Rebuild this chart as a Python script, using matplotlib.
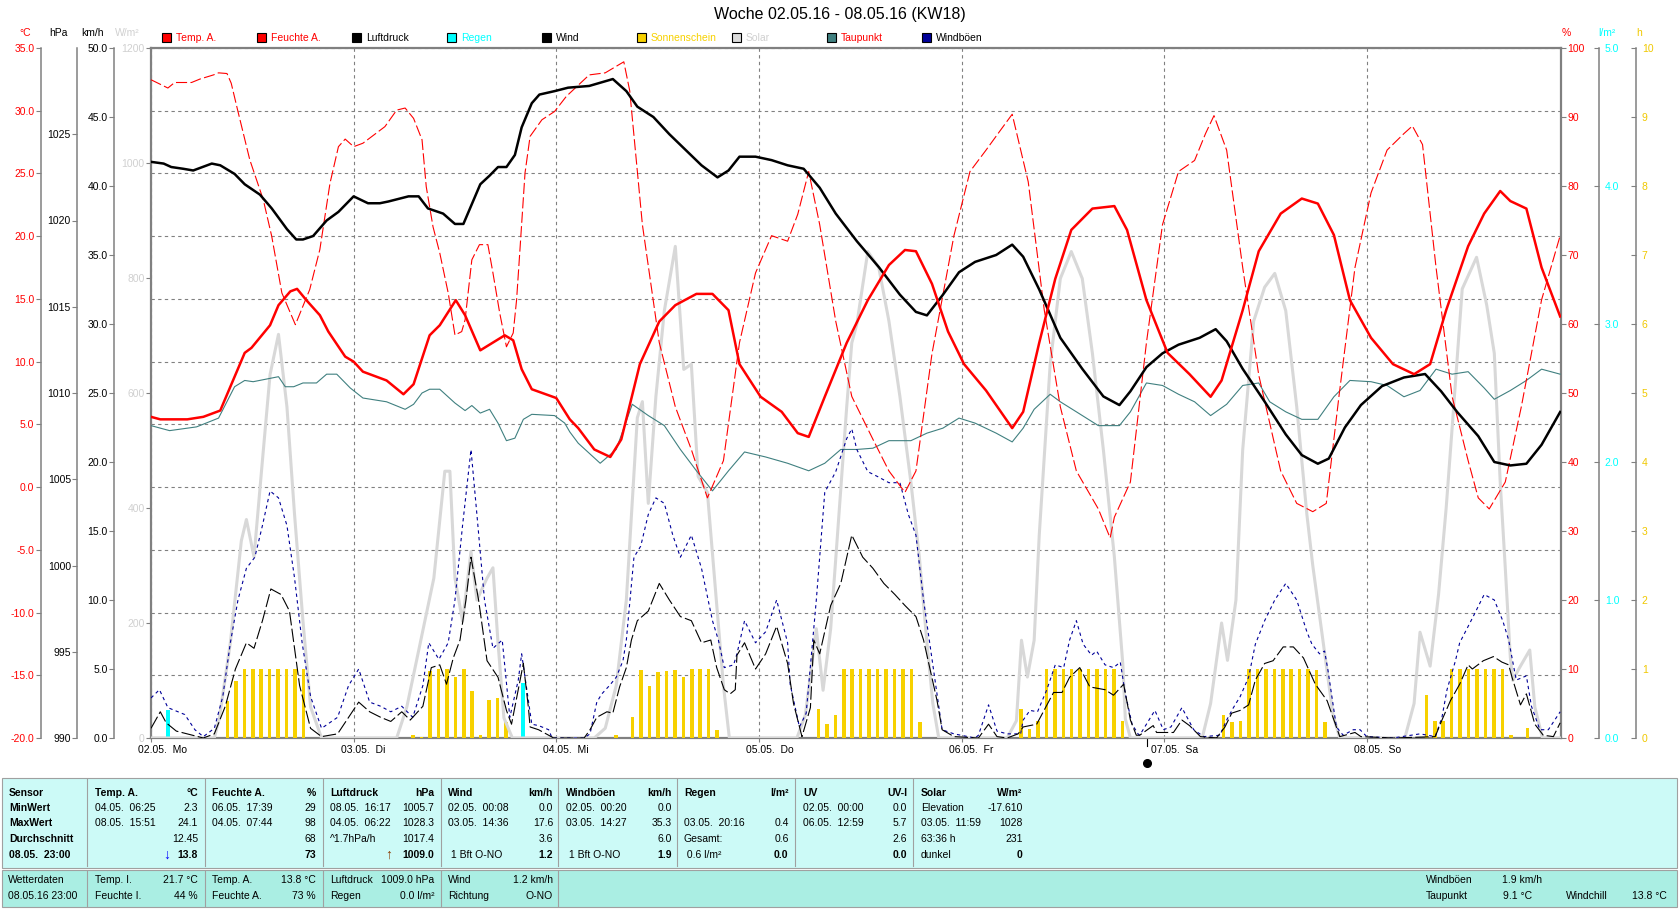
import numpy as np
import matplotlib.pyplot as plt
from matplotlib.patches import Rectangle
from matplotlib.lines import Line2D
from matplotlib.transforms import ScaledTranslation, blended_transform_factory

plt.rcParams['font.family'] = ['Liberation Sans', 'DejaVu Sans']
plt.rcParams['font.size'] = 7.5

# ---- data, time in hours from 02.05. 00:00 ----
temp_h = [0, 1.1, 4.3, 6.2, 8.2, 11.1, 11.9, 14.1, 15.1, 16.5, 17.3, 18.4, 20.0, 21.0, 23.0, 24.0, 25.1, 27.9,
          29.9, 31.1, 33.0, 34.2, 36.1, 37.2, 39.0, 41.9, 42.9, 43.9, 45.1, 48.0, 49.6, 50.6, 52.5, 54.4, 55.7,
          57.9, 60.2, 62.1, 64.6, 66.5, 68.4, 69.7, 72.2, 74.7, 76.6, 77.9, 79.8, 82.4, 84.9, 87.4, 89.3, 90.6,
          92.5, 94.4, 96.3, 98.9, 102.0, 103.3, 105.2, 107.1, 109.0, 111.5, 114.1, 115.6, 117.9, 120.4, 123.0,
          125.5, 126.8, 129.3, 131.2, 133.8, 136.3, 138.2, 140.1, 142.0, 144.5, 147.1, 149.6, 151.5, 153.4,
          156.0, 157.9, 159.8, 161.0, 162.9, 164.7, 166.9]
temp_v = [5.6, 5.4, 5.4, 5.6, 6.1, 10.7, 11.1, 12.9, 14.5, 15.6, 15.8, 14.9, 13.7, 12.4, 10.4, 10.0, 9.2, 8.5,
          7.4, 8.2, 12.1, 12.9, 14.9, 13.7, 10.9, 12.1, 11.7, 9.4, 7.8, 7.1, 5.4, 4.7, 3.0, 2.4, 3.8,
          9.8, 13.2, 14.5, 15.4, 15.4, 14.1, 9.8, 7.2, 6.0, 4.3, 4.0, 7.2, 11.5, 14.9, 17.7, 18.9, 18.8,
          16.2, 12.4, 9.8, 7.7, 4.7, 6.0, 11.5, 16.6, 20.5, 22.2, 22.4, 20.5, 14.9, 10.7, 9.0,
          7.2, 8.5, 14.1, 18.8, 21.8, 23.0, 22.6, 20.1, 14.9, 11.9, 9.8, 9.0, 9.8, 14.1,
          19.2, 21.8, 23.6, 22.8, 22.2, 17.5, 13.6]

hum_h = [0, 2.0, 2.8, 4.8, 5.8, 7.4, 8.0, 9.0, 9.5, 10.3, 11.7, 13.3, 14.3, 15.5, 17.1, 18.8, 20.0, 21.2, 22.2,
         23.0, 24.0, 25.1, 27.7, 29.1, 30.1, 31.1, 32.1, 32.6, 33.4, 34.2, 35.2, 36.0, 36.8, 37.2, 38.0, 38.9,
         39.9, 40.5, 41.3, 42.1, 42.9, 43.3, 43.7, 44.3, 44.9, 46.3, 47.8, 49.2, 51.9, 53.8, 56.0, 56.7, 58.2,
         60.2, 62.1, 64.0, 65.9, 67.8, 69.7, 71.6, 73.5, 75.4, 76.6, 77.9, 79.2, 81.1, 83.0, 85.5, 87.4, 89.3,
         90.6, 92.5, 95.1, 97.0, 98.9, 100.8, 102.0, 103.9, 105.8, 107.7, 109.6, 112.2, 113.6, 114.1, 116.0,
         117.9, 119.8, 121.7, 123.6, 124.9, 125.9, 127.4, 129.3, 131.2, 133.8, 135.7, 137.6, 139.2, 140.7,
         142.6, 144.5, 146.4, 148.4, 149.4, 150.6, 152.2, 154.1, 156.0, 157.2, 158.5, 160.4, 162.3, 164.7, 166.9]
hum_v = [95.4, 94.2, 95.0, 95.0, 95.5, 96.1, 96.4, 96.3, 94.9, 90.8, 83.8, 78.0, 72.7, 64.5, 59.9, 65.0, 70.8, 80.4, 85.7,
         86.8, 85.7, 86.2, 88.6, 91.0, 91.3, 89.8, 86.7, 79.9, 74.1, 70.3, 64.5, 58.4, 58.9, 60.6, 69.3, 71.5,
         71.5, 67.4, 61.6, 56.7, 58.7, 63.5, 70.8, 81.9, 87.2, 89.6, 90.8, 93.0, 96.1, 96.4, 98.0, 93.8, 74.4,
         57.3, 48.0, 41.8, 34.8, 40.2, 57.3, 67.4, 72.8, 72.0, 75.9, 82.1, 74.4, 60.4, 49.5, 43.3, 38.7, 35.6,
         38.7, 55.7, 72.8, 82.1, 85.2, 88.4, 90.4, 80.6, 62.0, 48.0, 38.7, 33.2, 29.0, 32.0, 37.1,
         57.3, 74.4, 82.1, 83.7, 87.6, 90.2, 85.2, 68.2, 52.6, 38.7, 34.0, 32.8, 34.0, 49.5,
         68.2, 79.0, 85.2, 87.6, 88.7, 86.0, 68.2, 49.5, 40.2, 34.8, 33.2, 37.1, 48.0, 63.5, 72.8]

pres_h = [0, 1.5, 2.4, 3.8, 5.0, 7.2, 8.2, 9.9, 11.1, 12.9, 14.3, 16.1, 17.2, 18.0, 19.2, 20.8, 22.2, 24.0, 25.7,
          27.1, 28.1, 30.5, 31.7, 32.8, 34.6, 36.0, 37.0, 39.0, 40.1, 41.1, 42.1, 43.1, 43.9, 45.1, 46.0, 47.8,
          49.4, 51.9, 54.7, 56.3, 57.6, 59.5, 61.4, 63.3, 65.2, 67.1, 68.4, 69.7, 71.6, 73.5, 75.4, 77.3, 79.2,
          81.1, 83.6, 86.2, 88.7, 90.6, 91.9, 93.8, 95.7, 97.6, 100.1, 102.0, 103.3, 105.2, 107.7, 110.3, 112.8,
          114.7, 116.0, 117.9, 119.8, 121.7, 124.2, 126.1, 127.4, 129.3, 131.9, 134.4, 136.3, 138.2, 139.5,
          141.4, 143.3, 145.8, 148.4, 150.9, 152.8, 154.7, 157.2, 159.1, 161.0, 162.9, 164.7, 166.9]
pres_v = [1023.4, 1023.3, 1023.1, 1023.0, 1022.9, 1023.3, 1023.2, 1022.7, 1022.1, 1021.5, 1020.7, 1019.5, 1018.9,
          1018.9, 1019.1, 1020.0, 1020.5, 1021.4, 1021.0, 1021.0, 1021.1, 1021.4, 1021.4, 1020.7, 1020.4, 1019.8,
          1019.8, 1022.1, 1022.6, 1023.1, 1023.1, 1023.8, 1025.4, 1026.8, 1027.3, 1027.5, 1027.7, 1027.8, 1028.2,
          1027.5, 1026.6, 1026.0, 1025.0, 1024.1, 1023.2, 1022.5, 1022.9, 1023.7, 1023.7, 1023.5, 1023.2, 1023.0,
          1021.9, 1020.4, 1018.8, 1017.3, 1015.7, 1014.7, 1014.5, 1015.7, 1017.0, 1017.6, 1018.0, 1018.6, 1017.9,
          1016.0, 1013.2, 1011.4, 1009.8, 1009.3, 1010.1, 1011.5, 1012.3, 1012.8, 1013.2, 1013.7, 1013.0, 1011.4,
          1009.5, 1007.6, 1006.4, 1005.9, 1006.2, 1008.0, 1009.3, 1010.4, 1010.9, 1011.1, 1010.1, 1008.9, 1007.5,
          1006.0, 1005.8, 1005.9, 1007.0, 1008.9]

dew_h = [0, 2.2, 5.4, 8.0, 9.9, 11.1, 12.1, 15.1, 15.9, 16.9, 18.0, 19.6, 20.8, 22.0, 23.6, 25.1, 27.9, 30.1, 31.1,
         32.1, 33.0, 34.2, 36.0, 37.2, 38.0, 39.0, 40.1, 41.1, 42.1, 43.1, 44.1, 45.1, 47.8, 49.0, 49.6, 50.6,
         53.2, 55.1, 57.0, 58.9, 60.8, 62.7, 64.6, 66.5, 68.4, 70.3, 72.8, 75.4, 77.9, 79.8, 81.7, 83.6, 85.5,
         87.4, 90.0, 91.9, 93.8, 95.7, 97.6, 100.1, 102.0, 103.3, 104.6, 106.5, 107.7, 109.6, 112.2, 114.7, 116.0,
         117.9, 119.8, 121.7, 123.6, 125.5, 127.4, 129.3, 131.2, 132.5, 134.4, 136.3, 138.2, 140.1, 142.0, 144.5,
         146.4, 148.4, 150.3, 152.2, 154.1, 156.0, 157.9, 159.1, 161.0, 162.9, 164.7, 166.9]
dew_v = [4.9, 4.5, 4.8, 5.5, 8.0, 8.5, 8.4, 8.8, 8.0, 8.0, 8.3, 8.3, 9.0, 9.0, 7.9, 7.1, 6.8, 6.2, 6.6,
         7.5, 7.8, 7.8, 6.7, 6.1, 6.5, 5.9, 6.2, 5.1, 3.7, 3.9, 5.4, 5.8, 5.7, 5.1, 4.4, 3.5,
         1.9, 3.0, 6.6, 5.7, 4.9, 3.0, 1.3, -0.3, 1.3, 2.8, 2.4, 1.9, 1.3, 1.9, 3.0, 3.0, 3.1,
         3.7, 3.7, 4.3, 4.7, 5.5, 5.1, 4.3, 3.6, 4.7, 6.2, 7.4, 6.8, 6.0, 4.9, 4.9, 6.0,
         8.3, 8.1, 7.4, 6.8, 5.7, 6.6, 8.1, 8.3, 6.8, 6.0, 5.4, 5.4, 7.2, 8.5, 8.4,
         8.1, 7.2, 7.7, 9.4, 9.0, 9.2, 7.9, 7.0, 7.7, 8.5, 9.4, 9.0]

solar_h = [0, 7.5, 8.1, 9.4, 10.7, 11.3, 12.2, 13.2, 14.1, 15.1, 16.1, 17.0, 18.0, 18.9, 20.2,
           29.1, 30.3, 31.9, 33.5, 34.8, 35.4, 36.0, 36.9, 37.9, 38.6, 39.8, 40.5, 41.1, 41.8, 42.8,
           52.5, 53.8, 55.1, 56.3, 57.6, 58.2, 58.9, 59.8, 60.8, 62.1, 63.1, 64.0, 64.8, 65.9, 66.9, 67.8, 68.5,
           76.5, 77.5, 78.8, 79.6, 80.5, 81.3, 82.4, 83.0, 83.6, 84.9, 86.2, 87.4, 88.7, 90.0, 91.0, 91.9, 92.6, 93.3,
           101.4, 102.5, 103.1, 103.8, 104.6, 105.2, 106.5, 107.7, 109.0, 110.3, 111.5, 112.8, 114.1, 115.1, 115.4, 116.0,
           124.5, 125.5, 126.8, 127.5, 128.5, 129.3, 130.6, 131.9, 133.1, 134.4, 135.7, 136.9, 137.6, 138.8, 140.0, 140.8,
           148.5, 149.6, 150.3, 151.5, 152.5, 153.4, 154.1, 155.3, 157.0, 158.2, 159.1, 159.8, 160.4, 161.0, 161.3,
           162.0, 163.3, 163.9, 164.8, 166.9]
solar_v = [0, 0, 35, 166, 343, 380, 315, 483, 632, 702, 576, 389, 203, 54, 0,
           0, 54, 166, 278, 464, 464, 278, 203, 324, 240, 278, 296, 166, 35, 0,
           0, 17, 91, 240, 557, 585, 408, 594, 743, 855, 641, 650, 455, 427, 250, 91, 0,
           0, 40, 190, 83, 190, 352, 576, 687, 720, 846, 818, 725, 594, 445, 315, 166, 60, 0,
           0, 30, 170, 106, 170, 352, 650, 799, 846, 799, 669, 501, 315, 129, 33, 0,
           0, 60, 200, 135, 240, 501, 725, 784, 808, 743, 576, 389, 300, 170, 40, 0,
           0, 60, 184, 125, 250, 400, 538, 781, 836, 753, 669, 445, 296, 140, 100,
           120, 153, 54, 0, 0]

wind_h = [0, 1.1, 1.8, 3.0, 4.9, 6.2, 7.5, 8.8, 10.0, 11.3, 12.2, 13.2, 14.2, 15.4, 16.4, 17.6, 18.9, 20.2, 22.1,
          23.4, 24.6, 25.9, 27.2, 28.4, 29.7, 30.7, 32.2, 33.2, 34.2, 35.0, 35.8, 36.6, 37.3, 37.9, 38.8, 39.8,
          41.1, 42.1, 42.7, 44.1, 44.7, 44.9, 45.9, 47.1, 47.7, 51.3, 52.0, 52.8, 54.0, 54.7, 55.5, 56.3, 56.9,
          57.6, 58.9, 60.2, 61.4, 62.7, 64.0, 65.2, 66.3, 67.0, 67.9, 68.6, 69.2, 69.4, 70.3, 71.6, 72.8, 74.1,
          75.4, 76.1, 77.1, 78.1, 78.5, 79.2, 80.5, 81.7, 83.0, 84.3, 85.5, 86.8, 88.1, 89.3, 90.6, 91.5, 93.1,
          93.7, 95.1, 98.0, 99.2, 100.2, 101.4, 102.7, 103.3, 104.9, 106.9, 107.9, 108.8, 110.0, 111.2, 113.0,
          114.0, 115.2, 116.0, 116.7, 117.1, 118.7, 119.1, 119.9, 121.1, 122.1, 123.0, 124.3, 126.2, 127.2, 128.0,
          129.0, 130.0, 130.8, 131.9, 132.9, 134.1, 135.3, 136.5, 137.9, 139.3, 140.8, 141.4, 142.6, 143.3, 147.1,
          152.1, 152.9, 153.9, 155.0, 156.0, 156.5, 157.8, 159.0, 160.0, 160.8, 161.2, 162.2, 162.9, 163.9, 164.9,
          166.1, 166.9]
wind_v = [0.7, 1.9, 1.1, 0.5, 0.2, 0, 0.3, 2.3, 5.0, 6.9, 6.5, 8.5, 10.8, 10.4, 9.2, 3.8, 0.7, 0.1, 0.3,
          1.5, 2.6, 1.9, 1.5, 1.2, 1.9, 1.3, 2.3, 5.1, 5.3, 3.9, 5.8, 7.1, 10.0, 13.1, 10.0, 5.6,
          4.4, 2.0, 1.0, 5.4, 2.2, 0.8, 0.6, 0.2, 0, 0, 0.6, 1.5, 1.9, 1.8, 3.7, 5.1, 7.1,
          8.5, 9.2, 11.2, 10.0, 8.8, 8.5, 6.9, 7.1, 5.1, 3.5, 3.2, 3.5, 6.0, 6.9, 5.0, 6.1, 8.1,
          5.4, 2.5, 0.1, 2.2, 7.1, 6.1, 9.6, 11.2, 14.7, 13.1, 12.3, 11.2, 10.4, 9.6, 8.8, 7.1, 2.7,
          0.6, 0.1, 0, 1.0, 0.1, 0, 0.3, 0.8, 1.0, 3.3, 3.3, 4.4, 5.1, 3.7, 3.5,
          3.1, 3.9, 1.3, 0.2, 0.2, 0.9, 0.4, 0.4, 0.4, 1.3, 0.9, 0.1, 0, 0.8, 1.8,
          2.0, 2.4, 4.2, 5.4, 5.6, 6.6, 6.6, 5.8, 3.9, 2.7, 0.1, 0.2, 0.4, 0.1, 0,
          0.1, 1.3, 2.7, 3.9, 5.3, 5.0, 5.6, 5.9, 5.5, 5.3, 4.4, 2.4, 3.2, 1.0, 0.2,
          0.1, 1.1]

gust_h = [0, 1.0, 2.0, 4.0, 5.2, 6.2, 7.5, 8.5, 9.4, 10.3, 11.3, 12.3, 13.2, 14.1, 15.1, 16.1, 17.0, 17.9, 18.9,
          20.2, 22.1, 23.4, 24.6, 25.9, 27.2, 28.4, 29.7, 31.0, 32.2, 32.9, 34.1, 35.2, 36.0, 36.9, 37.9, 38.6,
          39.5, 40.5, 41.6, 42.5, 43.5, 43.9, 45.1, 45.9, 47.1, 47.5, 51.3, 52.0, 52.8, 53.4, 54.3, 55.1, 55.9,
          56.3, 57.2, 58.0, 58.9, 59.8, 60.8, 61.8, 62.7, 64.0, 65.2, 66.5, 67.2, 67.9, 69.0, 69.4, 70.3, 71.6,
          72.8, 74.1, 75.4, 75.7, 76.8, 77.6, 78.8, 79.8, 81.1, 82.4, 83.0, 83.6, 84.9, 86.2, 87.4, 88.7, 89.7,
          90.6, 91.5, 93.0, 93.7, 95.1, 97.6, 98.0, 99.2, 100.2, 101.4, 103.0, 103.3, 104.1, 105.0, 106.1, 107.1,
          108.1, 108.8, 109.6, 110.4, 111.4, 112.0, 113.0, 114.0, 114.8, 115.4, 116.2, 116.9, 117.1, 118.9, 119.9,
          120.8, 122.1, 123.5, 124.7, 126.6, 127.4, 128.2, 129.0, 130.0, 130.8, 131.9, 133.1, 134.4, 135.7, 136.9,
          137.5, 138.4, 139.0, 139.4, 140.4, 141.2, 142.4, 143.2, 144.0, 147.1, 150.3, 152.1, 152.9, 153.5, 154.5,
          155.0, 156.6, 157.9, 159.1, 160.1, 160.8, 161.7, 162.9, 163.5, 164.5, 165.5, 166.9]
gust_v = [2.9, 3.5, 2.2, 1.7, 0.6, 0.1, 0.7, 3.0, 6.9, 10.0, 12.3, 13.1, 15.4, 17.9, 17.4, 15.4, 11.6, 6.9, 3.0,
          0.7, 1.5, 3.8, 5.0, 2.6, 2.3, 1.9, 2.3, 1.5, 3.8, 6.9, 5.7, 6.9, 10.0, 15.4, 20.9, 16.2,
          10.0, 6.5, 7.1, 1.5, 4.2, 6.1, 1.0, 0.9, 0.6, 0, 0, 0.3, 2.6, 3.2, 3.8, 4.4, 5.6,
          7.1, 13.1, 13.9, 16.2, 17.4, 17.0, 14.7, 13.1, 14.7, 12.3, 8.5, 7.1, 5.1, 5.3, 6.1, 8.5, 6.9,
          7.7, 10.0, 6.9, 3.9, 0.8, 1.8, 10.0, 17.8, 19.3, 21.7, 22.4, 20.9, 19.3, 18.9, 18.5, 18.5, 16.2,
          14.7, 10.0, 3.6, 0.6, 0.3, 0, 0.2, 2.4, 0.5, 0.3, 0.3, 1.3, 2.0, 1.9, 3.5, 5.3,
          5.1, 7.1, 8.5, 6.8, 6.0, 6.3, 5.3, 5.1, 5.5, 3.2, 1.0, 0.3, 0.2, 2.0, 0.6,
          0.8, 2.2, 0.6, 0.1, 0.2, 1.3, 2.2, 3.0, 4.4, 6.8, 8.5, 10.0, 11.2, 10.0, 7.7,
          6.8, 6.1, 6.3, 4.9, 0.8, 0.2, 0.6, 0.6, 0.1, 0, 0.3, 0.1, 1.5, 3.5, 5.6,
          6.9, 8.8, 10.4, 10.0, 8.5, 7.1, 4.2, 4.5, 2.3, 0.6, 0.6, 1.9]

sun_h = [9, 10, 11, 12, 13, 14, 15, 16, 17, 18,
         31, 32, 33, 34, 35, 36, 37, 38, 39, 40, 41, 42,
         55, 57, 58, 59, 60, 61, 62, 63, 64, 65, 66, 67,
         79, 80, 81, 82, 83, 84, 85, 86, 87, 88, 89, 90, 91,
         103, 104, 105, 106, 107, 108, 109, 110, 111, 112, 113, 114, 115,
         127, 128, 129, 130, 131, 132, 133, 134, 135, 136, 137, 138, 139,
         151, 152, 153, 154, 155, 156, 157, 158, 159, 160, 161, 163]
sun_v = [0.53, 0.83, 1, 1, 1, 1, 1, 1, 1, 1,
         0.05, 0.02, 0.97, 1, 1, 0.89, 1, 0.68, 0.05, 0.55, 0.58, 0.23,
         0.04, 0.31, 0.98, 0.75, 0.96, 0.97, 0.99, 0.88, 1, 1, 1, 0.11,
         0.42, 0.2, 0.33, 1, 1, 1, 1, 1, 1, 1, 1, 1, 0.23,
         0.42, 0.13, 0.25, 1, 1, 1, 1, 1, 1, 1, 1, 1, 0.24,
         0.34, 0.23, 0.24, 1, 1, 1, 1, 1, 1, 1, 1, 0.98, 0.23,
         0.63, 0.25, 0.24, 1, 1, 1, 1, 1, 1, 1, 0.04, 0.15]

rain_h = [2, 44]
rain_v = [0.2, 0.4]

moon_h = 118.0

day_ticks = [0, 24, 48, 72, 96, 120, 144]
day_labels = ['02.05.  Mo', '03.05.  Di', '04.05.  Mi', '05.05.  Do', '06.05.  Fr', '07.05.  Sa', '08.05.  So']

legend_names = ['Temp. A.', 'Feuchte A.', 'Luftdruck', 'Regen', 'Wind', 'Sonnenschein', 'Solar', 'Taupunkt', 'Windböen']
legend_box = ['#ff0000', '#ff0000', '#000000', '#00ffff', '#000000', '#f7d100', '#dcdcdc', '#408080', '#000099']
legend_txt = ['#ff0000', '#ff0000', '#000000', '#00ffff', '#000000', '#f7d100', '#d0d0d0', '#ff0000', '#000000']

row_heads = ['Sensor', 'MinWert', 'MaxWert', 'Durchschnitt', '08.05.  23:00']
tab_names = ['Temp. A.', 'Feuchte A.', 'Luftdruck', 'Wind', 'Windböen', 'Regen', 'UV', 'Solar']
tab_units = ['°C', '%', 'hPa', 'km/h', 'km/h', 'l/m²', 'UV-I', 'W/m²']
tab_left = [['04.05.  06:25', '08.05.  15:51', '', ''],
            ['06.05.  17:39', '04.05.  07:44', '', ''],
            ['08.05.  16:17', '04.05.  06:22', '^1.7hPa/h', ''],
            ['02.05.  00:08', '03.05.  14:36', '', ' 1 Bft O-NO'],
            ['02.05.  00:20', '03.05.  14:27', '', ' 1 Bft O-NO'],
            ['', '03.05.  20:16', 'Gesamt:', ' 0.6 l/m²'],
            ['02.05.  00:00', '06.05.  12:59', '', ''],
            ['Elevation', '03.05.  11:59', '63:36 h', 'dunkel']]
tab_right = [['2.3', '24.1', '12.45', '13.8'],
             ['29', '98', '68', '73'],
             ['1005.7', '1028.3', '1017.4', '1009.0'],
             ['0.0', '17.6', '3.6', '1.2'],
             ['0.0', '35.3', '6.0', '1.9'],
             ['', '0.4', '0.6', '0.0'],
             ['0.0', '5.7', '2.6', '0.0'],
             ['-17.610', '1028', '231', '0']]

now_head = ['Wetterdaten', '08.05.16 23:00']
now_left = [['Temp. I.', 'Feuchte I.'], ['Temp. A.', 'Feuchte A.'], ['Luftdruck', 'Regen'], ['Wind', 'Richtung']]
now_right = [['21.7 °C', '44 %'], ['13.8 °C', '73 %'], ['1009.0 hPa', '0.0 l/m²'], ['1.2 km/h', 'O-NO']]

# ---- figure ----
FW, FH = 1680, 909
fig = plt.figure(figsize=(FW / 100, FH / 100), dpi=100)


def fx(px):
    return px / FW


def fy(py):
    return 1 - py / FH


L, R, T, B = 151, 1561, 48, 738
pos = [fx(L), fy(B), (R - L) / FW, (B - T) / FH]
GRAY = '#808080'

ax = fig.add_axes(pos)
ax.set_xlim(0, 167)
ax.set_ylim(-20, 35)
ax.set_yticks(np.arange(-20, 36, 5))
ax.tick_params(axis='y', length=0, labelleft=False)
ax.set_xticks(day_ticks, day_labels)
ax.tick_params(axis='x', length=3, width=0.8, color=GRAY, pad=2, labelsize=7.5)
for lab in ax.get_xticklabels():
    lab.set_horizontalalignment('left')
    lab.set_transform(lab.get_transform() + ScaledTranslation(-13 / 100, 0, fig.dpi_scale_trans))
ax.grid(True, color=GRAY, linestyle=(0, (3, 3)), linewidth=0.8)
for s in ax.spines.values():
    s.set_color(GRAY)
    s.set_linewidth(1.6)


def data_axes(lo, hi):
    a = ax.twinx()
    a.set_ylim(lo, hi)
    a.set_axis_off()
    return a


ax_sun = data_axes(0, 10)
ax_sun.bar(np.array(sun_h) + 0.05, sun_v, width=0.42, color='#f7d100', linewidth=0)
ax_rain = data_axes(0, 5)
ax_rain.bar(np.array(rain_h) + 0.05, rain_v, width=0.45, color='#00ffff', linewidth=0)

ax_sol = ax.twinx()
ax_sol.set_ylim(0, 1200)
ax_sol.plot(solar_h, solar_v, color='#d8d8d8', linewidth=2.2)
ax_sol.yaxis.tick_left()
ax_sol.set_yticks(np.arange(0, 1201, 200))
ax_sol.tick_params(axis='y', direction='out', length=3.6, width=0.8, color=GRAY, labelcolor='#d0d0d0', pad=1)
for s in ax_sol.spines.values():
    s.set_visible(False)

ax_dew = data_axes(-20, 35)
ax_dew.plot(dew_h, dew_v, color='#408080', linewidth=0.8)

ax_wind = data_axes(0, 50)
ax_wind.plot(gust_h, gust_v, color='#000099', linewidth=0.8, linestyle=(0, (3, 3)))
ax_wind.plot(wind_h, wind_v, color='black', linewidth=0.8, linestyle=(0, (12, 3)))

ax_hum = ax.twinx()
ax_hum.set_ylim(0, 100)
ax_hum.plot(hum_h, hum_v, color='#ff0000', linewidth=0.8, linestyle=(0, (10, 3)))
ax_hum.set_yticks(np.arange(0, 101, 10))
ax_hum.tick_params(axis='y', direction='out', length=3.6, width=0.8, color=GRAY, labelcolor='#ff0000', pad=1)
for s in ax_hum.spines.values():
    s.set_visible(False)

ax_pres = data_axes(990, 1030)
ax_pres.plot(pres_h, pres_v, color='black', linewidth=1.8)

ax_temp = data_axes(-20, 35)
ax_temp.plot(temp_h, temp_v, color='#ff0000', linewidth=1.8)

# moon phase marker
tr = blended_transform_factory(ax.transData, ax.transAxes)
ax.add_line(Line2D([moon_h, moon_h], [0, -0.011], transform=tr, color='black', linewidth=0.8, clip_on=False))
ax.plot([moon_h], [-0.036], transform=tr, marker='o', markersize=5.5, color='black', clip_on=False)


# separate scales
def scale_axis(xpx, lim, ticks, labels, color, side):
    a = fig.add_axes([fx(xpx), pos[1], 1e-4, pos[3]])
    a.set_ylim(*lim)
    a.set_xticks([])
    a.patch.set_visible(False)
    for s in a.spines.values():
        s.set_visible(False)
    a.spines[side].set_visible(True)
    a.spines[side].set_color(GRAY)
    a.spines[side].set_linewidth(1.1)
    a.set_yticks(ticks, labels)
    if side == 'left':
        a.yaxis.tick_left()
        a.tick_params(axis='y', direction='out', length=3.6, width=0.8, color=GRAY, labelcolor=color, pad=1)
    else:
        a.yaxis.tick_right()
        a.tick_params(axis='y', direction='in', length=3.6, width=0.8, color=GRAY, labelcolor=color, pad=4)
    return a


t_ticks = np.arange(-20, 36, 5)
scale_axis(40.7, (-20, 35), t_ticks, [f'{v:.1f}' for v in t_ticks], '#ff0000', 'left')
p_ticks = np.arange(990, 1026, 5)
scale_axis(77.3, (990, 1030), p_ticks, [f'{v}' for v in p_ticks], 'black', 'left')
w_ticks = np.arange(0, 51, 5)
scale_axis(114.3, (0, 50), w_ticks, [f'{v:.1f}' for v in w_ticks], 'black', 'left')
r_ticks = np.arange(0, 6)
scale_axis(1599, (0, 5), r_ticks, [f'{v:.1f}' for v in r_ticks], '#00ffff', 'right')
h_ticks = np.arange(0, 11)
scale_axis(1636, (0, 10), h_ticks, [f'{v}' for v in h_ticks], '#f0c800', 'right')

# units
for x, s, c in [(25, '°C', '#ff0000'), (58, 'hPa', 'black'), (92, 'km/h', 'black'), (127, 'W/m²', '#d0d0d0'),
                (1566, '%', '#ff0000'), (1607, 'l/m²', '#00ffff'), (1639, 'h', '#f0c800')]:
    fig.text(fx(x), fy(32.5), s, ha='center', va='center', color=c, fontsize=7.5)

# title
fig.text(0.5, fy(15), 'Woche 02.05.16 - 08.05.16 (KW18)', ha='center', va='center', fontsize=11.5)

# legend
for i, (name, bc, tc) in enumerate(zip(legend_names, legend_box, legend_txt)):
    x0 = 161.8 + 95 * i
    fig.patches.append(Rectangle((fx(x0), fy(42.3)), 9 / FW, 9 / FH, transform=fig.transFigure,
                                 facecolor=bc, edgecolor='black', linewidth=0.8))
    fig.text(fx(x0 + 14), fy(37.8), name, ha='left', va='center', color=tc, fontsize=7.5)

# ---- bottom tables ----
fig.patches.append(Rectangle((fx(2), fy(867.5)), 1675 / FW, 90 / FH, transform=fig.transFigure,
                             facecolor='#ccfaf7', edgecolor='#a0a0a0', linewidth=0.8))
fig.patches.append(Rectangle((fx(2), fy(907)), 1675 / FW, 37 / FH, transform=fig.transFigure,
                             facecolor='#aaeee3', edgecolor='#a0a0a0', linewidth=0.8))
for xd in [87, 205, 322.5, 441, 558, 677, 795, 913.5]:
    fig.add_artist(Line2D([fx(xd), fx(xd)], [fy(779), fy(866)], color='#a0a0a0', linewidth=0.8))
for xd in [87, 205, 322.5, 441, 558]:
    fig.add_artist(Line2D([fx(xd), fx(xd)], [fy(871), fy(906)], color='#a0a0a0', linewidth=0.8))

rows_y = [793.3, 807.7, 823.3, 839.3, 855]
col_lr = [(95, 198), (212.5, 316), (330, 434), (448, 553), (566, 672), (684, 788.6), (803, 907), (920.7, 1022.5)]


def txt(x, y, s, ha='left', bold=False, color='black', size=7.5):
    fig.text(fx(x), fy(y), s, ha=ha, va='center', fontsize=size, color=color,
             fontweight='bold' if bold else 'normal')


for j, s in enumerate(row_heads):
    txt(9, rows_y[j], s, bold=True)
for k, (xl, xr) in enumerate(col_lr):
    txt(xl, rows_y[0], tab_names[k], bold=True)
    txt(xr, rows_y[0], tab_units[k], ha='right', bold=True)
    for j in range(4):
        if tab_left[k][j]:
            txt(xl, rows_y[j + 1], tab_left[k][j])
        if tab_right[k][j]:
            txt(xr, rows_y[j + 1], tab_right[k][j], ha='right', bold=(j == 3))
txt(167, rows_y[4], '↓', ha='center', bold=True, color='#0000ff', size=10)
txt(388.7, rows_y[4], '↑', ha='center', bold=True, color='#8b3a00', size=10)

now_y = [880, 896]
txt(8, now_y[0], now_head[0])
txt(8, now_y[1], now_head[1])
for k in range(4):
    xl, xr = col_lr[k]
    for j in range(2):
        txt(xl, now_y[j], now_left[k][j])
        txt(xr, now_y[j], now_right[k][j], ha='right')
txt(1426, now_y[0], 'Windböen')
txt(1542.5, now_y[0], '1.9 km/h', ha='right')
txt(1426, now_y[1], 'Taupunkt')
txt(1532.5, now_y[1], '9.1 °C', ha='right')
txt(1566, now_y[1], 'Windchill')
txt(1667, now_y[1], '13.8 °C', ha='right')

fig.savefig('out.png', dpi=100)
